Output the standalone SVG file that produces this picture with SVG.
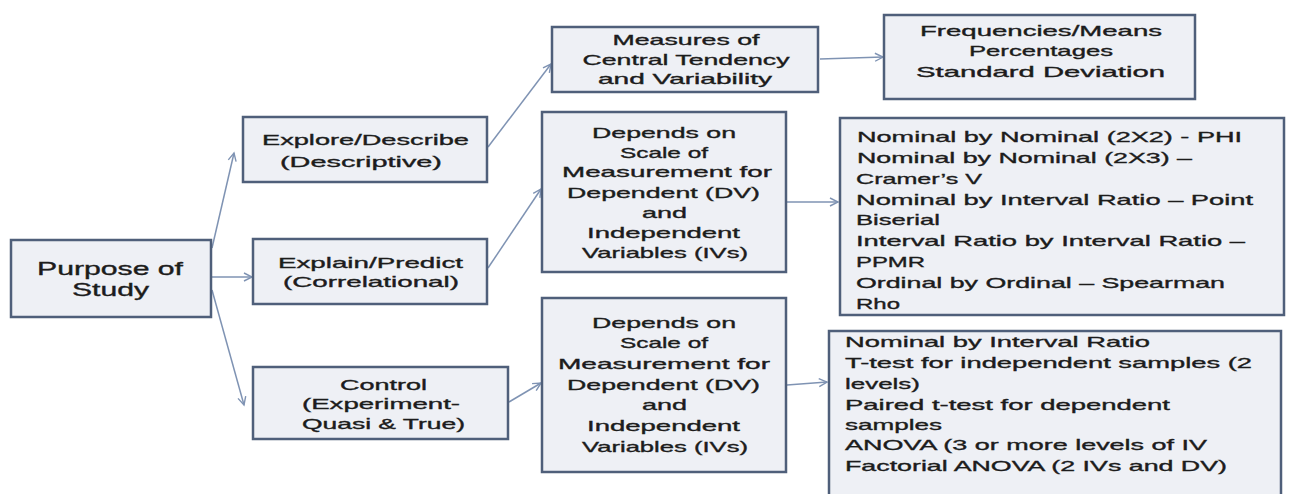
<svg xmlns="http://www.w3.org/2000/svg" width="1296" height="494" viewBox="0 0 1296 494">
<defs>
<marker id="arr" markerUnits="userSpaceOnUse" markerWidth="12" markerHeight="12" refX="9" refY="5" orient="auto">
<path d="M1,1 L9,5 L1,9" fill="none" stroke="#7f93b3" stroke-width="1.4"/>
</marker>
<style>
.box{fill:#eef0f5;stroke:#4f5f7a;stroke-width:2.5}
.t{font-family:"Liberation Sans",Arial,sans-serif;font-size:15px;fill:#1c1c1c;stroke:#1c1c1c;stroke-width:0.35;text-anchor:middle}
.l{font-family:"Liberation Sans",Arial,sans-serif;font-size:15px;fill:#1c1c1c;stroke:#1c1c1c;stroke-width:0.35}
.big{font-size:18px}
.c{fill:none;stroke:#7f93b3;stroke-width:1.5;marker-end:url(#arr)}
</style>
</defs>
<rect width="1296" height="494" fill="#ffffff"/>
<g id="connectors">
<line class="c" x1="212" y1="248" x2="234" y2="153"/>
<line class="c" x1="212" y1="277" x2="252" y2="277"/>
<line class="c" x1="212" y1="290" x2="244" y2="405"/>
<line class="c" x1="488" y1="147" x2="551" y2="64"/>
<line class="c" x1="488" y1="268" x2="541" y2="189"/>
<line class="c" x1="509" y1="402" x2="541" y2="383"/>
<line class="c" x1="820" y1="59" x2="883" y2="57"/>
<line class="c" x1="787" y1="202" x2="838" y2="202"/>
<line class="c" x1="787" y1="385" x2="827" y2="382"/>
</g>
<g id="purpose">
<rect class="box" x="11" y="240" width="200" height="77"/>
<text class="t big" x="110" y="275" textLength="146" lengthAdjust="spacingAndGlyphs">Purpose of</text>
<text class="t big" x="110.5" y="296" textLength="77" lengthAdjust="spacingAndGlyphs">Study</text>
</g>
<g id="explore">
<rect class="box" x="243" y="117" width="244" height="65"/>
<text class="t" x="365.5" y="145" textLength="207" lengthAdjust="spacingAndGlyphs">Explore/Describe</text>
<text class="t" x="361" y="167" textLength="162" lengthAdjust="spacingAndGlyphs">(Descriptive)</text>
</g>
<g id="explain">
<rect class="box" x="253" y="239" width="234" height="65"/>
<text class="t" x="370.5" y="268" textLength="185" lengthAdjust="spacingAndGlyphs">Explain/Predict</text>
<text class="t" x="371" y="287" textLength="176" lengthAdjust="spacingAndGlyphs">(Correlational)</text>
</g>
<g id="control">
<rect class="box" x="253" y="367" width="255" height="72"/>
<text class="t" x="383.5" y="390" textLength="87" lengthAdjust="spacingAndGlyphs">Control</text>
<text class="t" x="381" y="409" textLength="158" lengthAdjust="spacingAndGlyphs">(Experiment-</text>
<text class="t" x="383.5" y="429" textLength="163" lengthAdjust="spacingAndGlyphs">Quasi &amp; True)</text>
</g>
<g id="measures">
<rect class="box" x="552" y="27" width="266" height="65"/>
<text class="t" x="686" y="45" textLength="147" lengthAdjust="spacingAndGlyphs">Measures of</text>
<text class="t" x="686" y="65" textLength="207" lengthAdjust="spacingAndGlyphs">Central Tendency</text>
<text class="t" x="685" y="84" textLength="174" lengthAdjust="spacingAndGlyphs">and Variability</text>
</g>
<g id="frequencies">
<rect class="box" x="884" y="15" width="311" height="84"/>
<text class="t" x="1041" y="36" textLength="242" lengthAdjust="spacingAndGlyphs">Frequencies/Means</text>
<text class="t" x="1041" y="56" textLength="144" lengthAdjust="spacingAndGlyphs">Percentages</text>
<text class="t" x="1040.5" y="77" textLength="249" lengthAdjust="spacingAndGlyphs">Standard Deviation</text>
</g>
<g id="depends1">
<rect class="box" x="542" y="112" width="244" height="160"/>
<text class="t" x="664" y="138" textLength="144" lengthAdjust="spacingAndGlyphs">Depends on</text>
<text class="t" x="664" y="158" textLength="88" lengthAdjust="spacingAndGlyphs">Scale of</text>
<text class="t" x="667" y="177" textLength="210" lengthAdjust="spacingAndGlyphs">Measurement for</text>
<text class="t" x="663.5" y="198" textLength="193" lengthAdjust="spacingAndGlyphs">Dependent (DV)</text>
<text class="t" x="664.5" y="218" textLength="45" lengthAdjust="spacingAndGlyphs">and</text>
<text class="t" x="663.5" y="238" textLength="153" lengthAdjust="spacingAndGlyphs">Independent</text>
<text class="t" x="665" y="258" textLength="166" lengthAdjust="spacingAndGlyphs">Variables (IVs)</text>
</g>
<g id="depends2">
<rect class="box" x="542" y="298" width="244" height="174"/>
<text class="t" x="664" y="328" textLength="144" lengthAdjust="spacingAndGlyphs">Depends on</text>
<text class="t" x="664" y="348" textLength="88" lengthAdjust="spacingAndGlyphs">Scale of</text>
<text class="t" x="664" y="369" textLength="212" lengthAdjust="spacingAndGlyphs">Measurement for</text>
<text class="t" x="663.5" y="390" textLength="193" lengthAdjust="spacingAndGlyphs">Dependent (DV)</text>
<text class="t" x="664.5" y="410" textLength="45" lengthAdjust="spacingAndGlyphs">and</text>
<text class="t" x="663.5" y="431" textLength="153" lengthAdjust="spacingAndGlyphs">Independent</text>
<text class="t" x="665" y="452" textLength="166" lengthAdjust="spacingAndGlyphs">Variables (IVs)</text>
</g>
<g id="correlations">
<rect class="box" x="840" y="118" width="444" height="197"/>
<text class="l" x="857" y="142" textLength="385" lengthAdjust="spacingAndGlyphs">Nominal by Nominal (2X2) - PHI</text>
<text class="l" x="857" y="163" textLength="335" lengthAdjust="spacingAndGlyphs">Nominal by Nominal (2X3) –</text>
<text class="l" x="856" y="183.5" textLength="126" lengthAdjust="spacingAndGlyphs">Cramer’s V</text>
<text class="l" x="856" y="204.5" textLength="397" lengthAdjust="spacingAndGlyphs">Nominal by Interval Ratio – Point</text>
<text class="l" x="856" y="225" textLength="84" lengthAdjust="spacingAndGlyphs">Biserial</text>
<text class="l" x="856" y="246" textLength="389" lengthAdjust="spacingAndGlyphs">Interval Ratio by Interval Ratio –</text>
<text class="l" x="856" y="267" textLength="69" lengthAdjust="spacingAndGlyphs">PPMR</text>
<text class="l" x="856" y="287.5" textLength="369" lengthAdjust="spacingAndGlyphs">Ordinal by Ordinal – Spearman</text>
<text class="l" x="856" y="308.5" textLength="44" lengthAdjust="spacingAndGlyphs">Rho</text>
</g>
<g id="comparisons">
<rect class="box" x="829" y="331" width="452" height="175"/>
<text class="l" x="845" y="347" textLength="305" lengthAdjust="spacingAndGlyphs">Nominal by Interval Ratio</text>
<text class="l" x="845" y="368" textLength="407" lengthAdjust="spacingAndGlyphs">T-test for independent samples (2</text>
<text class="l" x="845" y="389" textLength="75" lengthAdjust="spacingAndGlyphs">levels)</text>
<text class="l" x="845" y="409.5" textLength="325" lengthAdjust="spacingAndGlyphs">Paired t-test for dependent</text>
<text class="l" x="845" y="430" textLength="97" lengthAdjust="spacingAndGlyphs">samples</text>
<text class="l" x="845" y="450" textLength="362" lengthAdjust="spacingAndGlyphs">ANOVA (3 or more levels of IV</text>
<text class="l" x="845" y="471" textLength="382" lengthAdjust="spacingAndGlyphs">Factorial ANOVA (2 IVs and DV)</text>
</g>
</svg>
